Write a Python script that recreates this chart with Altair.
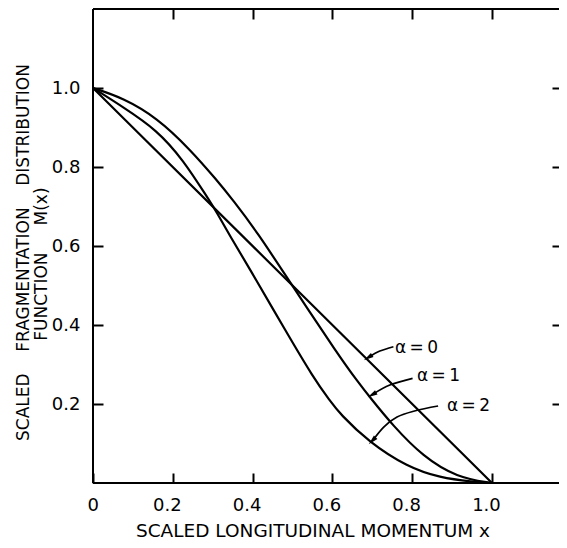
import altair as alt
import pandas as pd

FONT = "DejaVu Sans"
NB = "\u00a0"
BLANK = "\u2800"

# ---- data ----
X_A0 = [0.0, 0.5, 1.0]
Y_A0 = [1.0, 0.5, 0.0]

X_A1 = [0.0, 0.075, 0.160, 0.243, 0.311, 0.351, 0.411, 0.494, 0.619, 0.662, 0.694, 0.752, 0.827, 0.912, 1.0]
Y_A1 = [1.0, 0.975, 0.925, 0.845, 0.766, 0.716, 0.636, 0.508, 0.318, 0.259, 0.217, 0.145, 0.067, 0.014, 0.0]

X_A2 = [0.0, 0.075, 0.160, 0.226, 0.286, 0.311, 0.343, 0.393, 0.480, 0.552, 0.594, 0.619, 0.691, 0.787, 0.870, 0.952, 1.0]
Y_A2 = [1.0, 0.952, 0.894, 0.818, 0.724, 0.684, 0.626, 0.542, 0.390, 0.267, 0.208, 0.175, 0.104, 0.041, 0.013, 0.003, 0.0]

XTICKS = [0.0, 0.2, 0.4, 0.6, 0.8, 1.0]
XTICKS_TOP = [0.2, 0.4, 0.6, 0.8, 1.0]
YTICKS = [0.2, 0.4, 0.6, 0.8, 1.0]

X_DOMAIN = [0.0, 1.168]
Y_DOMAIN = [0.0, 1.2]

LABELS = ["\u03b1\u2009=\u20090", "\u03b1\u2009=\u20091", "\u03b1\u2009=\u20092"]
LABEL_X = [0.757, 0.812, 0.887]
LABEL_Y = [0.343, 0.271, 0.195]
ARROW_TAIL_X = [0.753, 0.801, 0.865]
ARROW_TAIL_Y = [0.345, 0.265, 0.195]
ARROW_MID_X = [0.719, 0.744, 0.762]
ARROW_MID_Y = [0.334, 0.248, 0.167]
ARROW_HEAD_X = [0.692, 0.702, 0.702]
ARROW_HEAD_Y = [0.319, 0.225, 0.109]
ARROW_ANGLE = [238, 240, 225]

# ---- tables ----
rows = []
for name, xs_, ys_ in (("a0", X_A0, Y_A0), ("a1", X_A1, Y_A1), ("a2", X_A2, Y_A2)):
    for i, (x, y) in enumerate(zip(xs_, ys_)):
        rows.append({"series": name, "x": x, "y": y, "i": i})
curves = pd.DataFrame(rows)

arrow_rows = []
for k in range(3):
    pts = [(ARROW_TAIL_X[k], ARROW_TAIL_Y[k]), (ARROW_MID_X[k], ARROW_MID_Y[k]),
           (ARROW_HEAD_X[k], ARROW_HEAD_Y[k])]
    for i, (x, y) in enumerate(pts):
        arrow_rows.append({"arrow": k, "x": x, "y": y, "i": i})
arrows = pd.DataFrame(arrow_rows)

heads = pd.DataFrame({"x": ARROW_HEAD_X, "y": ARROW_HEAD_Y, "ang": ARROW_ANGLE})
labels = pd.DataFrame({"x": LABEL_X, "y": LABEL_Y, "t": LABELS})

xs = alt.Scale(domain=X_DOMAIN, nice=False, zero=False)
ys = alt.Scale(domain=Y_DOMAIN, nice=False, zero=False)

x_bottom = alt.Axis(
    values=XTICKS, orient="bottom", offset=-10, tickSize=10, tickWidth=2, tickColor="black",
    domain=False, grid=False,
    labelExpr="datum.value == 0 ? '0' : format(datum.value, '.1f')",
    labelFont=FONT, labelFontSize=18, labelColor="black", labelPadding=13, labelOffset=-6,
    title="SCALED LONGITUDINAL MOMENTUM x", titleFont=FONT, titleFontSize=18.5,
    titleFontWeight="normal", titleColor="black", titleX=219.5, titleY=63,
    titleAlign="center", titleBaseline="alphabetic",
)
y_left = alt.Axis(
    values=YTICKS, orient="left", offset=-10, tickSize=10, tickWidth=2, tickColor="black",
    domain=False, grid=False, format=".1f",
    labelFont=FONT, labelFontSize=18, labelColor="black", labelPadding=13,
    title=["SCALED" + NB * 4 + "FRAGMENTATION" + NB * 4 + "DISTRIBUTION",
           "FUNCTION" + NB * 5 + "M(x)" + NB * 2 + BLANK],
    titleFont=FONT, titleFontSize=17, titleFontWeight="normal", titleColor="black",
    titleAngle=270, titleX=-75, titleY=243, titleAlign="center",
    titleBaseline="alphabetic", titleLineHeight=18,
)
x_top = alt.Axis(values=XTICKS_TOP, orient="top", offset=-10, tickSize=10, tickWidth=2,
                 tickColor="black", domain=False, grid=False, labels=False, title=None)
y_right = alt.Axis(values=YTICKS, orient="right", offset=-7, tickSize=7, tickWidth=2,
                   tickColor="black", domain=False, grid=False, labels=False, title=None)

curve_layer = alt.Chart(curves).mark_line(color="black", strokeWidth=2.2,
                                          interpolate="basis").encode(
    x=alt.X("x:Q", scale=xs, axis=x_bottom),
    y=alt.Y("y:Q", scale=ys, axis=y_left),
    detail="series:N",
    order="i:Q",
)

axis2_layer = alt.Chart(curves).mark_point(opacity=0).encode(
    x=alt.X("x:Q", scale=xs, axis=x_top),
    y=alt.Y("y:Q", scale=ys, axis=y_right),
)

frame_left = alt.Chart().mark_rule(color="black", strokeWidth=2).encode(
    x=alt.XDatum(X_DOMAIN[0], axis=None, scale=xs))
frame_bottom = alt.Chart().mark_rule(color="black", strokeWidth=2).encode(
    y=alt.YDatum(Y_DOMAIN[0], axis=None, scale=ys))
frame_top = alt.Chart().mark_rule(color="black", strokeWidth=2).encode(
    y=alt.YDatum(Y_DOMAIN[1], axis=None, scale=ys))

arrow_layer = alt.Chart(arrows).mark_line(color="black", strokeWidth=1.7,
                                          interpolate="natural").encode(
    x=alt.X("x:Q", scale=xs, axis=None),
    y=alt.Y("y:Q", scale=ys, axis=None),
    detail="arrow:N",
    order="i:Q",
)

head_layer = alt.Chart(heads).mark_point(
    shape="M0,-1L0.4,0.6L-0.4,0.6Z", filled=True, color="black", opacity=1, size=150,
    strokeWidth=0,
).encode(
    x=alt.X("x:Q", scale=xs, axis=None),
    y=alt.Y("y:Q", scale=ys, axis=None),
    angle=alt.Angle("ang:Q", scale=None),
)

label_layer = alt.Chart(labels).mark_text(
    align="left", baseline="middle", font=FONT, fontSize=17, color="black",
).encode(
    x=alt.X("x:Q", scale=xs, axis=None),
    y=alt.Y("y:Q", scale=ys, axis=None),
    text="t:N",
)

chart = alt.layer(
    curve_layer, axis2_layer, frame_left, frame_bottom, frame_top,
    arrow_layer, head_layer, label_layer,
).resolve_scale(x="shared", y="shared").resolve_axis(
    x="independent", y="independent"
).properties(
    width=466, height=474, autosize="none",
    padding={"left": 85, "top": 1, "right": 0, "bottom": 57},
    background="white",
).configure_view(stroke=None)

chart.save("out.html", embed_options={"renderer": "svg", "actions": False})
